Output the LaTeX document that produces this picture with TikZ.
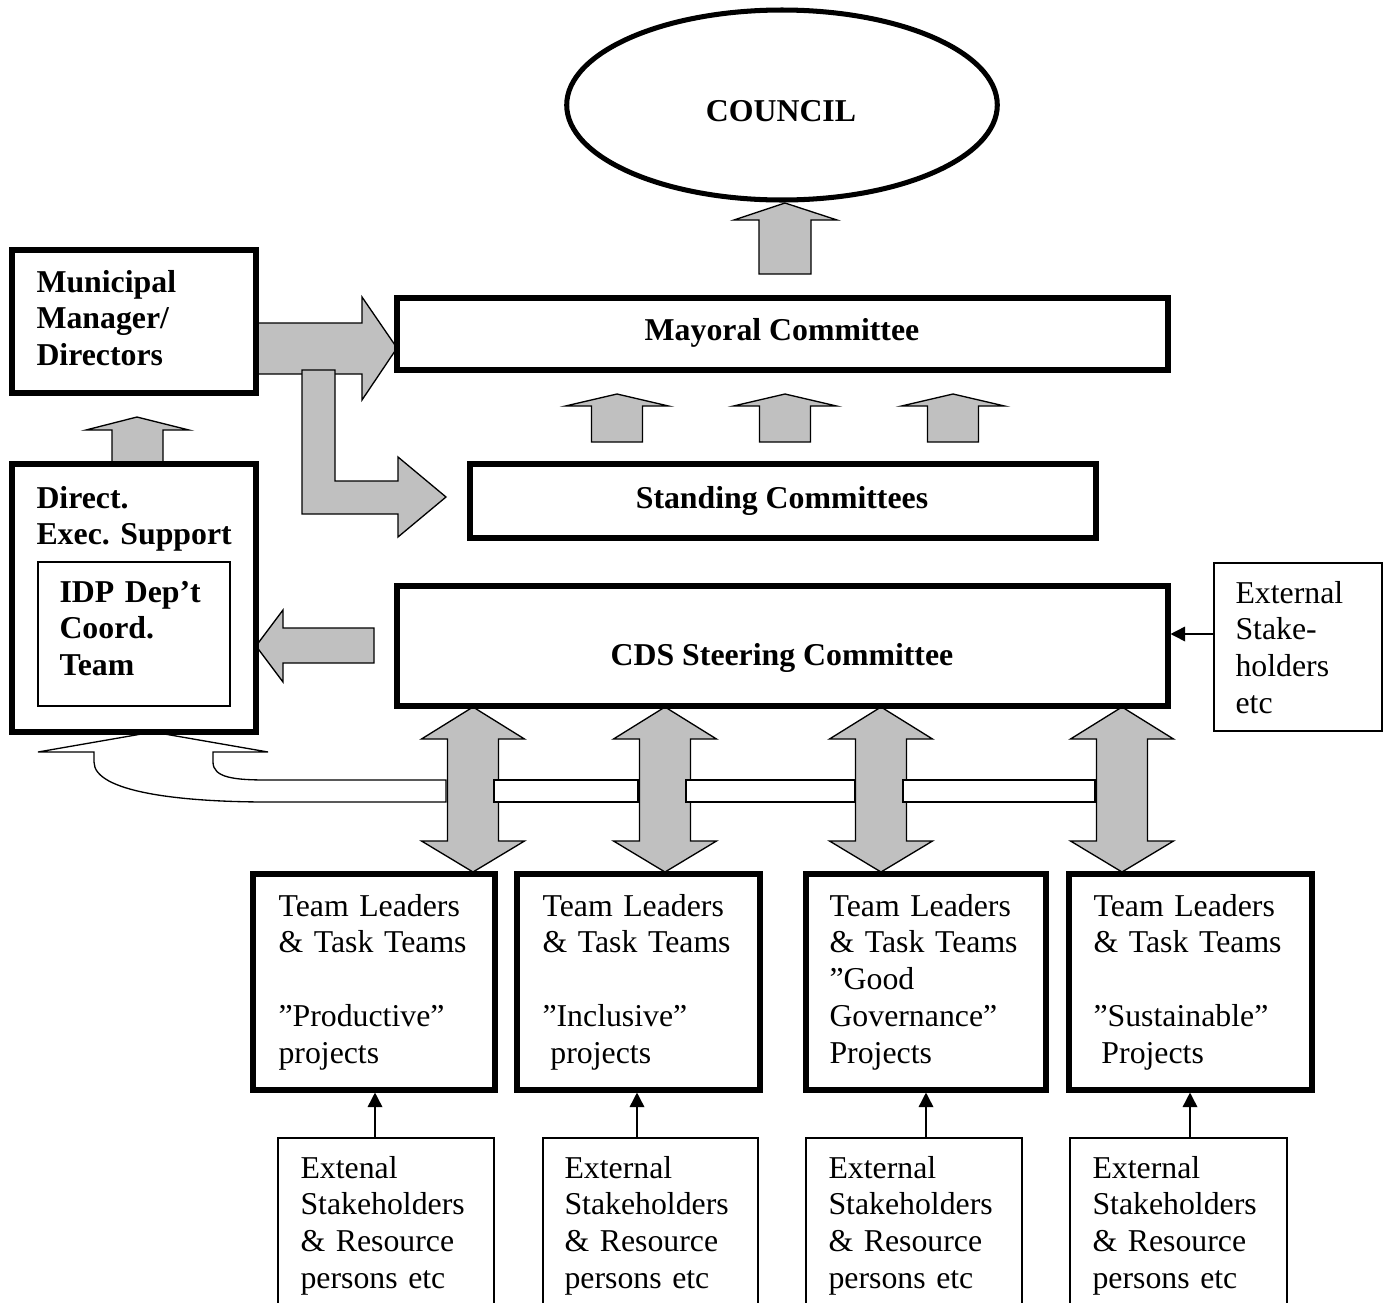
\documentclass[tikz,border=0pt]{standalone}
\usepackage{fontspec}
\setmainfont{Liberation Serif}
\usetikzlibrary{fit,shapes.geometric,arrows.meta}
\definecolor{blockgray}{RGB}{192,192,192}
\begin{document}
\begin{tikzpicture}[x=0.3774pt,y=-0.3774pt,
  thickbox/.style={draw,line width=1.9pt,inner sep=0pt},
  thinbox/.style={draw,line width=0.65pt,inner sep=0pt},
  txt/.style={font=\fontsize{12pt}{13.9pt}\selectfont\frenchspacing,inner sep=0pt,anchor=base west,align=left,text width=150pt},
  btxt/.style={txt,font=\fontsize{12pt}{13.9pt}\selectfont\frenchspacing\bfseries},
  ctxt/.style={font=\fontsize{12pt}{13.9pt}\selectfont\frenchspacing\bfseries,inner sep=0pt,anchor=base},
  blk/.style={draw,line width=0.5pt,fill=blockgray,line join=miter},
  wblk/.style={draw,line width=0.5pt,fill=white,line join=miter},
  thinarr/.style={line width=0.6pt,-{Triangle[length=5.5pt,width=5.5pt]}}
]
\clip (0,0) rectangle (1383,1303);
\fill[white] (0,0) rectangle (1383,1303);

% ---------- gray block arrows ----------
% council arrow
\draw[blk] (759,274) -- (759,220) -- (734,220) -- (785,203) -- (837,220) -- (811,220) -- (811,274) -- cycle;
% three arrows standing -> mayoral
\foreach \cx in {617,785,953}{
  \draw[blk] ({\cx-25.5},442) -- ({\cx-25.5},406) -- ({\cx-51.5},406) -- (\cx,394)
    -- ({\cx+51.5},406) -- ({\cx+25.5},406) -- ({\cx+25.5},442) -- cycle;
}
% direct -> municipal manager
\draw[blk] (112,466) -- (112,430) -- (86,430) -- (137,417) -- (189,430) -- (163,430) -- (163,466) -- cycle;
% municipal manager -> mayoral
\draw[blk] (255,323) -- (362,323) -- (362,297) -- (397,348) -- (362,400) -- (362,374) -- (255,374) -- cycle;
% L arrow -> standing
\draw[blk] (302,370) -- (335,370) -- (335,481) -- (398,481) -- (398,457) -- (446,497)
  -- (398,537) -- (398,514) -- (302,514) -- cycle;
% CDS -> direct
\draw[blk] (374,628) -- (283,628) -- (283,610) -- (256,646) -- (283,682) -- (283,663) -- (374,663) -- cycle;

% white curved arrow
\draw[wblk] (446,802) -- (268,802) .. controls (180,802) and (94,792) .. (94,762) -- (94,752)
  -- (38,752) -- (153,732) -- (268,752) -- (213,752) -- (213,762)
  .. controls (213,778) and (235,780) .. (268,780) -- (446,780) -- cycle;

% double arrows
\foreach \cx in {473,665,881,1122}{
  \draw[blk] ({\cx-25.5},739) -- ({\cx-51.5},739) -- (\cx,707) -- ({\cx+51.5},739)
    -- ({\cx+25.5},739) -- ({\cx+25.5},841) -- ({\cx+51.5},841) -- (\cx,872)
    -- ({\cx-51.5},841) -- ({\cx-25.5},841) -- cycle;
}
% white bars between double arrows
\draw[wblk] (494,780) rectangle (638,802);
\draw[wblk] (686,780) rectangle (855,802);
\draw[wblk] (903,780) rectangle (1095,802);

% ---------- boxes ----------
\node[ellipse,draw,line width=1.9pt,minimum width=162.5pt,minimum height=71.7pt,inner sep=0pt] (council) at (782,105) {};
\node[ctxt] (counciltxt) at (781,121) {COUNCIL};

\node[thickbox,fit={(397,298)(1168,370)}] (mayor) {};
\node[ctxt] (mayortxt) at (782,340) {Mayoral Committee};

\node[thickbox,fit={(470,464)(1096,538)}] (standing) {};
\node[ctxt] (standingtxt) at (782,508) {Standing Committees};

\node[thickbox,fit={(397,586)(1168,706)}] (cds) {};
\node[ctxt] (cdstxt) at (782,665) {CDS Steering Committee};

\node[thickbox,fit={(12,250)(256,393)}] (mm) {};
\node[btxt] (mmtxt) at (36,292) {Municipal\\Manager/\\Directors};

\node[thickbox,fit={(12,464)(256,732)}] (direct) {};
\node[btxt] (directtxt) at (36,508) {Direct.\\Exec. Support};
\node[thinbox,fit={(38,562)(230,706)}] (idp) {};
\node[btxt] (idptxt) at (59,602) {IDP Dep’t\\Coord.\\Team};

\node[thinbox,fit={(1214,563)(1382,731)}] (extR) {};
\node[txt] (extRtxt) at (1235,603) {External\\Stake-\\holders\\etc};
\coordinate (ey) at (0,634);
\draw[thinarr] (extR.west |- ey) -- (cds.east |- ey);

% team boxes
\node[thickbox,fit={(253,874)(495,1090)}] (t1) {};
\node[thickbox,fit={(517,874)(760,1090)}] (t2) {};
\node[thickbox,fit={(806,874)(1046,1090)}] (t3) {};
\node[thickbox,fit={(1069,874)(1312,1090)}] (t4) {};
\node[txt] (t1txt) at (278,916) {Team Leaders\\\& Task Teams\\\mbox{}\\”Productive”\\projects};
\node[txt] (t2txt) at (542,916) {Team Leaders\\\& Task Teams\\\mbox{}\\”Inclusive”\\\hspace*{3pt}projects};
\node[txt] (t3txt) at (829,916) {Team Leaders\\\& Task Teams\\”Good\\Governance”\\Projects};
\node[txt] (t4txt) at (1093,916) {Team Leaders\\\& Task Teams\\\mbox{}\\”Sustainable”\\\hspace*{3pt}Projects};

% external stakeholder boxes
\node[thinbox,fit={(278,1138)(494,1330)}] (e1) {};
\node[thinbox,fit={(543,1138)(758,1330)}] (e2) {};
\node[thinbox,fit={(806,1138)(1022,1330)}] (e3) {};
\node[thinbox,fit={(1070,1138)(1287,1330)}] (e4) {};
\node[txt] (e1txt) at (300,1178) {Extenal\\Stakeholders\\\& Resource\\persons etc};
\node[txt] (e2txt) at (564,1178) {External\\Stakeholders\\\& Resource\\persons etc};
\node[txt] (e3txt) at (828,1178) {External\\Stakeholders\\\& Resource\\persons etc};
\node[txt] (e4txt) at (1092,1178) {External\\Stakeholders\\\& Resource\\persons etc};

\draw[thinarr] (e1.north -| 375,0) -- (t1.south -| 375,0);
\draw[thinarr] (e2.north -| 637,0) -- (t2.south -| 637,0);
\draw[thinarr] (e3.north -| 926,0) -- (t3.south -| 926,0);
\draw[thinarr] (e4.north -| 1190,0) -- (t4.south -| 1190,0);
\end{tikzpicture}
\end{document}
